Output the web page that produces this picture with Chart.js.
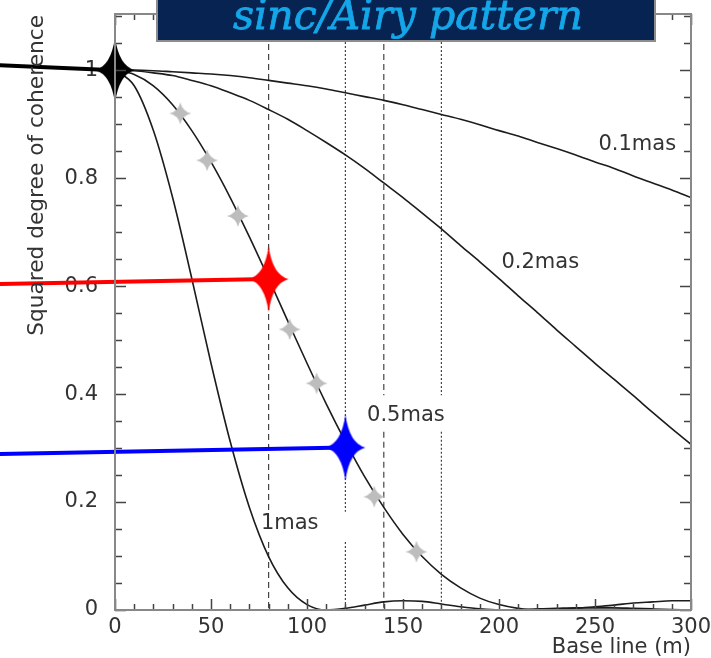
<!DOCTYPE html>
<html>
<head>
<meta charset="utf-8">
<title>sinc/Airy pattern</title>
<script src="https://cdn.jsdelivr.net/npm/chart.js@4.4.1/dist/chart.umd.min.js"></script>
<style>
    html, body { margin: 0; padding: 0; background: #ffffff; }
    #wrap { width: 711px; height: 658px; }
</style>
</head>
<body>
<div id="wrap"><canvas id="coherenceChart" width="711" height="658"></canvas></div>
<script>
// Base line (m) sampling of the curves
const baseLine = [0, 10, 20, 30, 40, 50, 60, 70, 80, 90, 100, 110, 120, 130, 140, 150,
    160, 170, 180, 190, 200, 210, 220, 230, 240, 250, 260, 270, 280, 290, 300];

// Squared degree of coherence for each stellar diameter
const coh1mas = [1.000, 0.971, 0.888, 0.764, 0.614, 0.457, 0.312, 0.190, 0.099, 0.041, 0.010,
    0.000, 0.003, 0.009, 0.015, 0.017, 0.016, 0.011, 0.006, 0.002, 0.000,
    0.000, 0.002, 0.003, 0.004, 0.004, 0.004, 0.003, 0.002, 0.001, 0.000];
const coh05mas = [1.000, 0.992, 0.971, 0.936, 0.888, 0.830, 0.764, 0.691, 0.614, 0.535, 0.457,
    0.382, 0.312, 0.247, 0.190, 0.140, 0.099, 0.066, 0.041, 0.022, 0.010,
    0.003, 0.000, 0.001, 0.003, 0.006, 0.009, 0.013, 0.015, 0.017, 0.017];
const coh02mas = [1.000, 0.999, 0.995, 0.990, 0.981, 0.971, 0.958, 0.944, 0.927, 0.909, 0.888,
    0.866, 0.843, 0.818, 0.791, 0.764, 0.735, 0.706, 0.675, 0.645, 0.614,
    0.582, 0.551, 0.519, 0.488, 0.457, 0.427, 0.397, 0.366, 0.336, 0.307];
const coh01mas = [1.000, 1.000, 0.999, 0.997, 0.995, 0.993, 0.990, 0.986, 0.981, 0.976, 0.971,
    0.965, 0.958, 0.951, 0.944, 0.936, 0.927, 0.918, 0.909, 0.899, 0.888,
    0.878, 0.866, 0.855, 0.843, 0.830, 0.818, 0.804, 0.791, 0.778, 0.764];
const curveNames = ['1mas', '0.5mas', '0.2mas', '0.1mas'];

// grey samples along the 0.5mas curve
const greyStarBase = [34, 48, 64, 91, 105, 135, 157];
const greyStarCoh = [0.920, 0.833, 0.730, 0.520, 0.420, 0.210, 0.108];

// highlighted measurements and the pointers coming in from the left
const markerBase = [0, 80, 120];
const markerCoh = [1.000, 0.613, 0.301];
const pointerBase = -60;
const pointerCoh = [1.009, 0.604, 0.289];

// vertical reference base lines, broken where the labels sit
const vlineBase = [80, 120, 140, 170];
const vlineGapTop = [0.182, 0.182, 0.398, 0.398];
const vlineGapBottom = [0.126, 0.126, 0.330, 0.330];

// curve labels (text, base line, coherence)
const curveLabels = [
    { text: '1mas', base: 91, coh: 0.161 },
    { text: '0.5mas', base: 151.5, coh: 0.361 },
    { text: '0.2mas', base: 221.5, coh: 0.643 },
    { text: '0.1mas', base: 272, coh: 0.863 }
];

const xTickValues = [0, 50, 100, 150, 200, 250, 300];
const xTickLabels = ['0', '50', '100', '150', '200', '250', '300'];
const yTickValues = [0, 0.2, 0.4, 0.6, 0.8, 1];
const yTickLabels = ['0', '0.2', '0.4', '0.6', '0.8', '1'];

const X_MIN = 0;
const X_MAX = 300;
const Y_MIN = 0;
const Y_MAX = 1.104;

const markerPalette = ['#000000', '#ff0000', '#0000ff'];
const labelFont = '21px "DejaVu Sans"';
const textColor = '#333333';

function makeStar(color, halfW, halfH, waist) {
    const canvas = document.createElement('canvas');
    canvas.width = halfW * 2 + 2;
    canvas.height = halfH * 2 + 2;
    const ctx = canvas.getContext('2d');
    ctx.translate(canvas.width / 2, canvas.height / 2);
    ctx.beginPath();
    ctx.moveTo(0, -halfH);
    ctx.quadraticCurveTo(waist, -waist, halfW, 0);
    ctx.quadraticCurveTo(waist, waist, 0, halfH);
    ctx.quadraticCurveTo(-waist, waist, -halfW, 0);
    ctx.quadraticCurveTo(-waist, -waist, 0, -halfH);
    ctx.closePath();
    ctx.fillStyle = color;
    ctx.fill();
    return canvas;
}

function toPoints(xs, ys) {
    return xs.map((x, i) => ({ x, y: ys[i] }));
}

const curveSets = [coh1mas, coh05mas, coh02mas, coh01mas].map((values, i) => ({
    label: curveNames[i],
    data: toPoints(baseLine, values),
    borderColor: '#1c1c1c',
    borderWidth: 1.6,
    pointRadius: 0,
    cubicInterpolationMode: 'monotone',
    order: 2
}));

const vlineSets = vlineBase.map((b, i) => ({
    label: `base ${b}`,
    data: [
        { x: b, y: Y_MAX },
        { x: b, y: vlineGapTop[i] },
        { x: b, y: null },
        { x: b, y: vlineGapBottom[i] },
        { x: b, y: Y_MIN }
    ],
    borderColor: '#444444',
    borderWidth: 1.2,
    borderDash: i % 2 === 0 ? [6, 4] : [2, 2],
    pointRadius: 0,
    spanGaps: false,
    order: 3
}));

const pointerSets = markerBase.map((b, i) => ({
    label: `pointer ${i}`,
    data: [{ x: pointerBase, y: pointerCoh[i] }, { x: b, y: markerCoh[i] }],
    borderColor: markerPalette[i],
    borderWidth: 4,
    pointRadius: 0,
    clip: false,
    order: 1
}));

const starSets = [
    {
        label: 'samples',
        data: toPoints(greyStarBase, greyStarCoh),
        showLine: false,
        pointStyle: makeStar('#bdbdbd', 11, 11, 2),
        pointRadius: 10,
        clip: false,
        order: 0
    },
    {
        label: 'markers',
        data: toPoints(markerBase, markerCoh),
        showLine: false,
        pointStyle: markerPalette.map((c) => makeStar(c, 20, 33, 4)),
        pointRadius: 10,
        clip: false,
        order: 0
    }
];

const frameAndTicks = {
    id: 'frameAndTicks',
    afterDatasetsDraw(chart) {
        const { ctx, chartArea: area, scales: { x, y } } = chart;
        ctx.save();
        ctx.strokeStyle = '#444444';
        ctx.lineWidth = 1.5;
        ctx.beginPath();
        for (let v = X_MIN; v <= X_MAX; v += 10) {
            const px = Math.round(x.getPixelForValue(v)) + 0.5;
            const len = v % 50 === 0 ? 11 : 6;
            ctx.moveTo(px, area.bottom);
            ctx.lineTo(px, area.bottom - len);
            ctx.moveTo(px, area.top);
            ctx.lineTo(px, area.top + len);
        }
        for (let i = 0; i <= 22; i++) {
            const py = Math.round(y.getPixelForValue(i * 0.05)) + 0.5;
            const len = i % 4 === 0 ? 11 : 7;
            ctx.moveTo(area.left, py);
            ctx.lineTo(area.left + len, py);
            ctx.moveTo(area.right, py);
            ctx.lineTo(area.right - len, py);
        }
        ctx.stroke();

        ctx.strokeStyle = '#888888';
        ctx.lineWidth = 2;
        ctx.strokeRect(area.left, area.top, area.right - area.left, area.bottom - area.top);
        ctx.restore();
    }
};

const annotations = {
    id: 'annotations',
    afterDraw(chart) {
        const { ctx, chartArea: area, scales: { x, y } } = chart;
        ctx.save();
        ctx.font = labelFont;
        ctx.fillStyle = textColor;
        ctx.textAlign = 'center';
        ctx.textBaseline = 'middle';
        curveLabels.forEach((l) => {
            ctx.fillText(l.text, x.getPixelForValue(l.base), y.getPixelForValue(l.coh));
        });

        ctx.textAlign = 'right';
        ctx.fillText('Base line (m)', area.right, 648);

        ctx.save();
        ctx.font = '21.7px "DejaVu Sans"';
        ctx.translate(43, area.top + 1);
        ctx.rotate(-Math.PI / 2);
        ctx.textBaseline = 'alphabetic';
        ctx.textAlign = 'right';
        ctx.fillText('Squared degree of coherence', 0, 0);
        ctx.restore();

        // title banner
        ctx.fillStyle = '#062352';
        ctx.fillRect(157, -4, 498, 45);
        ctx.strokeStyle = '#8c8c8c';
        ctx.lineWidth = 2;
        ctx.strokeRect(157, -4, 498, 45);
        ctx.fillStyle = '#14a6e8';
        ctx.strokeStyle = '#14a6e8';
        ctx.lineWidth = 0.8;
        ctx.font = 'italic 41px "DejaVu Serif"';
        ctx.textAlign = 'center';
        ctx.textBaseline = 'alphabetic';
        ctx.fillText('sinc/Airy pattern', 408, 29);
        ctx.strokeText('sinc/Airy pattern', 408, 29);
        ctx.restore();
    }
};

new Chart(document.getElementById('coherenceChart'), {
    type: 'line',
    data: { datasets: [...starSets, ...pointerSets, ...curveSets, ...vlineSets] },
    options: {
        responsive: false,
        animation: false,
        events: [],
        layout: { padding: { left: 0, right: 20, top: 14, bottom: 0 } },
        plugins: {
            legend: { display: false },
            tooltip: { enabled: false }
        },
        scales: {
            x: {
                type: 'linear',
                min: X_MIN,
                max: X_MAX,
                grid: { display: false, drawTicks: false },
                border: { display: false },
                ticks: {
                    padding: 5,
                    color: textColor,
                    font: { family: 'DejaVu Sans', size: 21 },
                    maxRotation: 0,
                    autoSkip: false,
                    callback: (value, index) => xTickLabels[index]
                },
                afterBuildTicks: (scale) => {
                    scale.ticks = xTickValues.map((value) => ({ value }));
                },
                afterFit: (scale) => {
                    scale.height = 48;
                    scale.paddingLeft = 0;
                    scale.paddingRight = 0;
                }
            },
            y: {
                type: 'linear',
                min: Y_MIN,
                max: Y_MAX,
                grid: { display: false, drawTicks: false },
                border: { display: false },
                ticks: {
                    padding: 17,
                    color: textColor,
                    font: { family: 'DejaVu Sans', size: 21 },
                    autoSkip: false,
                    callback: (value, index) => yTickLabels[index]
                },
                afterBuildTicks: (scale) => {
                    scale.ticks = yTickValues.map((value) => ({ value }));
                },
                afterFit: (scale) => {
                    scale.width = 115;
                    scale.paddingTop = 0;
                    scale.paddingBottom = 0;
                }
            }
        }
    },
    plugins: [frameAndTicks, annotations]
});
</script>
</body>
</html>
